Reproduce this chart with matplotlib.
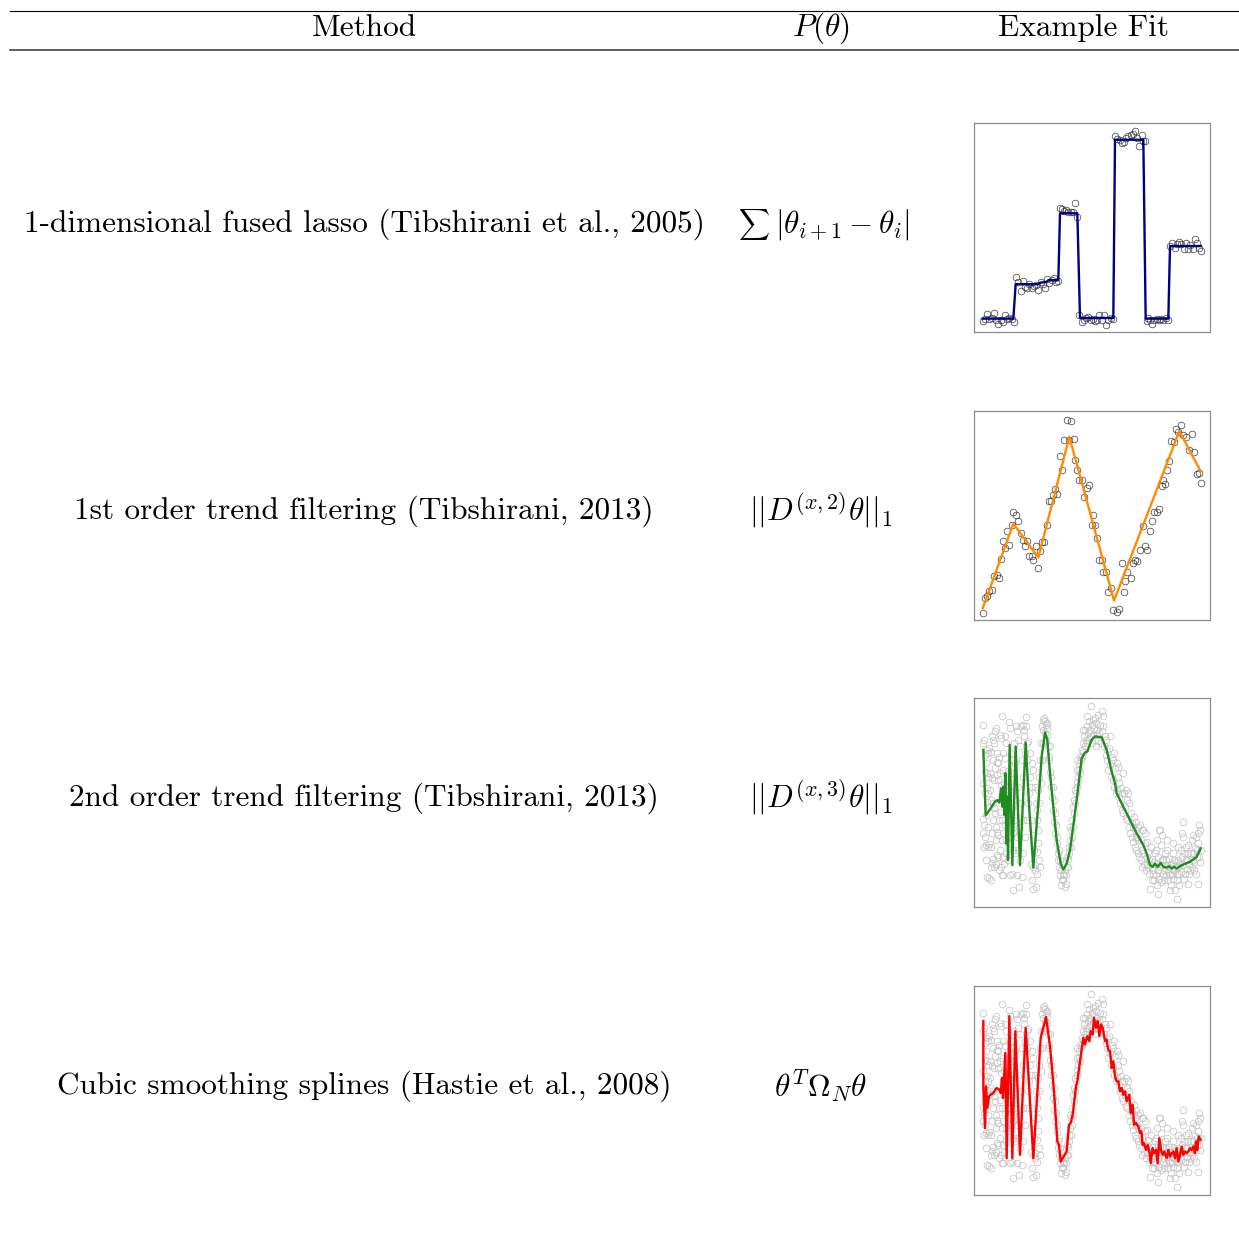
import numpy as np
import matplotlib
matplotlib.use("Agg")
import matplotlib.pyplot as plt
from matplotlib.lines import Line2D

plt.rcParams['font.family'] = 'cmr10'
plt.rcParams['mathtext.fontset'] = 'cm'
plt.rcParams['axes.unicode_minus'] = False

# table text
header = ['Method', r'$P(\theta)$', 'Example Fit']
methods = ['1-dimensional fused lasso (Tibshirani et al., 2005)',
           '1st order trend filtering (Tibshirani, 2013)',
           '2nd order trend filtering (Tibshirani, 2013)',
           'Cubic smoothing splines (Hastie et al., 2008)']
penalties = [r'$|\theta_{i+1}-\theta_i|$',
             r'$||D^{(x,2)}\theta||_1$',
             r'$||D^{(x,3)}\theta||_1$',
             r'$\theta^T\Omega_N\theta$']

# fused lasso example (points + step fit)
lasso_x = [3.8, 4.5, 5.2, 5.8, 6.5, 7.2, 7.8, 8.5, 9.2, 9.8, 10.5, 11.2, 11.8, 12.5, 13.2,
           13.8, 14.5, 15.2, 15.8, 16.5, 17.2, 17.8, 18.5, 19.2, 19.8, 20.5, 21.2, 21.8, 22.5,
           23.2, 23.8, 24.5, 25.2, 25.8, 26.5,
           27.0, 27.6, 28.2, 28.8, 29.5, 30.2, 30.9, 31.6, 32.2,
           32.8, 33.5, 34.2, 34.8, 35.5, 36.2, 36.8, 37.5, 38.2, 38.8, 39.5, 40.2, 40.8, 41.5,
           42.2, 42.8,
           43.5, 44.2, 45.0, 45.6, 46.2, 46.8, 47.5, 48.2, 48.8, 49.5, 50.2, 50.8, 51.5, 52.0, 52.5,
           53.0, 53.5, 54.0, 54.7, 55.3, 56.0, 56.7, 57.3, 58.0, 58.7, 59.5,
           60.0, 60.7, 61.4, 62.0, 62.7, 63.4, 64.1, 64.8, 65.4, 66.1, 66.8, 67.5, 68.1, 68.8, 69.4]
lasso_y = [-0.16, 0, 0.26, -0.04, 0.04, 0.34, -0.1, -0.34, -0.1, -0.2, 0.2, 0, 0.04, -0.04, -0.2,
           2.5, 2.2, 1.66, 2.26, 1.9, 1.86, 2.06, 1.86, 1.96, 2.04, 1.7, 2.2, 2.1, 1.86, 2.38,
           2.12, 2.3, 2.4, 2.2, 2.26,
           6.6, 6.56, 6.44, 6.5, 6.4, 6.36, 6.4, 6.9, 6.1,
           0.2, -0.2, -0.1, 0.06, 0.1, -0.06, 0, -0.14, -0.06, 0.2, -0.1, 0.24, -0.4, -0.1, 0.04, 0,
           10.9, 10.76, 10.7, 10.5, 10.56, 10.8, 10.9, 11.0, 11.04, 11.24, 10.8, 10.3, 11.0, 10.64, 10.6,
           -0.16, 0.04, -0.1, -0.34, -0.1, 0, -0.1, 0, -0.06, 0.06, -0.1,
           4.36, 4.5, 4.2, 4.44, 4.56, 4.44, 4.16, 4.5, 4.14, 4.4, 4.16, 4.76, 4.54, 4.24, 4.04]
lasso_fit_x = [3.8, 13.0, 13.7, 20.5, 21.0, 23.0, 23.5, 26.5, 27.0, 32.2, 33.0, 43.0,
               43.5, 52.0, 52.7, 59.5, 60.0, 69.2]
lasso_fit_y = [0, 0, 2.06, 2.06, 2.14, 2.2, 2.3, 2.3, 6.3, 6.3, 0.04, 0.04,
               10.7, 10.7, 0, 0, 4.34, 4.34]

# 1st order trend filtering example
tf1_x = [3.8, 4.5, 5.2, 5.8, 6.5, 7.2, 8.0, 8.7, 9.2, 9.8, 10.4, 11.2, 11.8, 12.5, 13.0, 13.7,
         14.5, 15.2, 15.8, 16.5, 17.2, 17.8, 18.5, 19.0, 19.8, 20.5, 21.0, 21.5, 22.3, 23.0,
         23.7, 24.2, 25.0, 25.5, 26.2, 27.0, 27.7, 28.3, 29.0, 29.8, 30.4, 31.2, 31.6, 32.2,
         32.8, 33.5, 34.3, 35.0, 35.7, 36.5, 37.0, 37.5, 38.2, 38.8, 39.5, 40.0, 40.8, 41.5,
         42.2, 42.8, 44.0, 44.8, 45.5, 46.3, 46.6, 47.2, 48.2, 48.8, 49.5, 50.0, 51.0, 52.0,
         52.5, 53.2, 54.0, 54.6, 55.3, 56.0, 56.6, 57.5, 58.0, 58.5, 59.2, 59.8, 60.4, 61.2,
         61.8, 62.5, 63.2, 64.0, 64.8, 65.8, 66.5, 67.2, 68.0, 68.6, 69.2]
tf1_y = [-0.4, 0.5, 0.66, 0.94, 1.0, 1.84, 1.9, 1.74, 2.84, 3.9, 3.5, 4.5, 3.7, 4.9, 5.64, 5.5,
         5.1, 4.4, 4.0, 3.6, 3.94, 3.04, 3.0, 2.8, 3.64, 2.3, 3.34, 3.84, 3.84, 4.9,
         6.3, 6.3, 6.7, 7.04, 6.74, 9.0, 8.2, 9.96, 11.16, 9.96, 11.1, 10.0, 8.76, 8.2,
         7.6, 7.6, 6.56, 7.1, 7.3, 4.9, 5.5, 4.9, 4.1, 2.8, 2.76, 2.1, 2.06, 0.9,
         1.1, -0.2, -0.3, -0.12, 2.6, 0.9, 1.56, 2.06, 1.7, 2.6, 2.76, 2.7, 3.36, 4.84,
         3.6, 3.4, 4.5, 5.1, 5.64, 5.64, 5.84, 7.2, 7.56, 7.34, 8.2, 8.7, 9.9, 9.86,
         10.64, 10.44, 10.84, 10.28, 10.16, 9.36, 10.3, 9.26, 7.94, 8.0, 7.4]
tf1_fit_x = [3.8, 13.0, 20.5, 29.8, 43.2, 62.8, 69.2]
tf1_fit_y = [-0.1, 4.96, 2.94, 10.16, 0.36, 10.5, 8.1]

# noisy doppler-like data shared by the last two examples
cloud = [
    (4.0, 54.5), (4.0, 49.0), (4.2, 50.0), (4.5, 45.5), (4.8, 43.0), (5.2, 47.0), (5.5, 46.0),
    (5.8, 47.5), (6.2, 46.5), (6.5, 51.0), (6.8, 50.0), (7.2, 49.0), (7.5, 52.5), (7.8, 53.5),
    (8.2, 43.5), (8.5, 43.0), (8.8, 45.0), (9.0, 51.5), (9.3, 50.5), (9.7, 57.2), (10.0, 46.0),
    (10.4, 51.0), (10.7, 49.0), (4.0, 26.2), (4.5, 21.0), (4.2, 18.0), (4.8, 18.5), (5.5, 18.0),
    (5.8, 18.8), (6.2, 18.0), (4.8, 14.2), (5.2, 9.0), (5.7, 8.8), (6.2, 8.2), (6.5, 13.2),
    (7.0, 14.5), (7.3, 12.0), (7.8, 12.8), (8.2, 15.5), (8.5, 15.0), (9.0, 17.0), (9.3, 12.0),
    (9.7, 9.5), (10.0, 9.5), (10.3, 13.0), (10.7, 16.0), (7.0, 26.0), (7.5, 28.0), (7.8, 24.0),
    (8.2, 22.5), (8.5, 21.5), (8.8, 26.0), (9.0, 28.5), (9.5, 26.0), (6.0, 35.0), (5.5, 34.0),
    (5.0, 35.5), (6.2, 32.0), (6.8, 31.0), (7.2, 29.5), (4.5, 34.0), (5.2, 31.5), (5.8, 30.0),
    (10.0, 34.0), (10.3, 37.0), (8.5, 38.0), (9.0, 40.0), (8.0, 39.5), (7.5, 41.5), (7.2, 38.0),
    (6.5, 38.5), (6.0, 40.0), (5.5, 39.0), (5.0, 40.0), (4.0, 22.0), (4.3, 24.5), (4.7, 27.5),
    (5.3, 24.0), (6.7, 22.0), (7.7, 20.0), (9.5, 20.0), (10.0, 22.0), (10.5, 24.5), (9.2, 36.5),
    (9.8, 41.0), (8.0, 46.0), (6.8, 44.0), (4.5, 40.5), (4.0, 37.0), (10.5, 44.5), (10.8, 31.0),
    (10.8, 20.0), (6.2, 12.0), (8.8, 11.0), (10.0, 15.0),
    (11.0, 38.0), (11.2, 36.5), (11.5, 40.8), (11.8, 55.2), (12.0, 53.5), (12.2, 40.0),
    (12.5, 34.5), (13.0, 44.0), (13.4, 43.0), (13.8, 54.2), (14.0, 52.5), (14.5, 50.0),
    (15.0, 48.0), (15.5, 44.0), (16.0, 54.5), (16.3, 53.0), (16.7, 56.7), (11.8, 35.0),
    (12.5, 29.5), (12.8, 22.0), (13.2, 26.0), (14.0, 21.0), (14.5, 17.0), (15.0, 14.0),
    (15.5, 9.0), (14.8, 6.0), (12.8, 5.0), (12.0, 9.5), (12.5, 10.0), (14.0, 9.5), (16.0, 16.0),
    (16.5, 21.0), (17.0, 26.0), (17.5, 31.0), (17.8, 34.0), (18.2, 36.0), (18.5, 26.0),
    (18.8, 21.5), (19.2, 17.0), (19.5, 12.5), (19.6, 11.0), (19.0, 5.5), (18.5, 8.0), (19.8, 6.0),
    (18.8, 12.0), (18.3, 13.0), (18.0, 39.0), (17.2, 44.0), (16.5, 46.0), (16.2, 51.0),
    (16.8, 54.0), (17.5, 49.5), (18.0, 46.0), (18.5, 43.0), (19.0, 41.0), (19.5, 36.0),
    (19.8, 31.0), (11.3, 26.0), (11.6, 19.0), (11.4, 14.0), (13.5, 16.0), (13.7, 32.0),
    (14.3, 36.0), (15.2, 31.0), (15.8, 26.0), (14.7, 24.0), (13.2, 49.0), (15.2, 54.0),
    (17.0, 49.0), (15.8, 39.0), (12.2, 46.0), (12.8, 17.0), (20.0, 16.5),
    (20.0, 29.0), (20.2, 26.0), (20.5, 35.0), (20.8, 39.0), (21.0, 44.0), (21.2, 49.0),
    (21.5, 54.0), (21.8, 56.0), (22.2, 56.5), (22.5, 55.5), (22.8, 54.5), (23.0, 53.5),
    (23.2, 51.5), (23.5, 48.0), (23.8, 44.0), (24.0, 40.5), (24.3, 36.0), (24.6, 33.0),
    (25.0, 29.0), (25.3, 25.5), (25.6, 22.0), (26.0, 19.0), (26.3, 16.0), (26.5, 14.0),
    (26.8, 12.0), (27.0, 9.5), (27.2, 6.5), (27.5, 8.5), (27.8, 10.0), (28.2, 9.5), (28.5, 6.0),
    (28.8, 7.0), (29.0, 12.0), (21.2, 37.0), (20.8, 31.0), (21.5, 44.0), (21.8, 49.0),
    (22.0, 53.0), (22.5, 52.0), (22.8, 50.0), (23.2, 55.0), (23.6, 45.0), (24.0, 48.0),
    (24.4, 39.0), (24.8, 36.0), (25.2, 32.0), (25.5, 28.0), (25.8, 24.5), (26.2, 21.0),
    (26.6, 17.0), (27.0, 14.0), (27.3, 11.0), (27.6, 12.5), (28.0, 8.0), (28.4, 11.0),
    (28.7, 9.5), (29.0, 15.0), (20.5, 23.0), (20.3, 19.0), (20.6, 14.0), (20.2, 10.0), (21.0, 12.0),
    (29.3, 14.5), (29.6, 18.0), (30.0, 20.0), (30.3, 23.0), (30.6, 26.0), (31.0, 30.0),
    (31.3, 32.0), (31.6, 35.0), (32.0, 37.5), (32.2, 41.0), (32.6, 43.0), (33.0, 45.0),
    (33.5, 47.0), (33.8, 49.0), (34.2, 51.0), (34.5, 53.0), (35.0, 54.0), (35.5, 52.0),
    (35.8, 55.5), (36.2, 60.0), (36.5, 54.5), (36.8, 56.0), (37.2, 53.5), (37.5, 56.5),
    (37.8, 55.0), (38.2, 53.0), (38.5, 57.5), (39.0, 54.5), (39.5, 58.5), (39.8, 57.0),
    (40.0, 54.0), (29.5, 12.0), (29.8, 16.0), (30.2, 18.0), (30.5, 21.0), (30.8, 24.0),
    (31.2, 28.0), (31.5, 31.0), (31.8, 34.0), (32.1, 36.0), (32.5, 39.0), (32.8, 41.0),
    (33.2, 44.0), (33.6, 45.0), (34.0, 46.5), (34.4, 48.0), (34.8, 50.0), (35.2, 49.0),
    (35.6, 50.5), (36.0, 53.0), (36.4, 51.0), (36.7, 49.0), (37.0, 51.5), (37.4, 50.0),
    (37.7, 48.0), (38.0, 51.5), (38.4, 49.5), (38.8, 52.0), (39.2, 49.0), (39.6, 52.5),
    (30.0, 24.0), (32.0, 44.0), (33.0, 40.0), (34.0, 53.0), (35.0, 57.0),
    (40.5, 51.0), (40.8, 50.0), (41.2, 47.0), (41.8, 47.5), (42.5, 45.0), (43.0, 44.0),
    (43.5, 41.5), (44.0, 43.0), (44.5, 39.0), (44.8, 37.0), (45.2, 35.5), (45.8, 40.0),
    (46.2, 34.0), (46.5, 30.0), (47.0, 32.0), (47.5, 34.0), (47.8, 31.0), (48.2, 28.0),
    (48.5, 25.0), (48.8, 24.0), (49.2, 27.0), (49.6, 23.0), (50.0, 21.0), (50.5, 20.0),
    (51.0, 24.5), (51.5, 17.0), (51.8, 16.0), (52.0, 23.0), (52.5, 19.0), (53.0, 19.5),
    (53.5, 16.5), (53.8, 14.0), (54.2, 18.0), (40.3, 48.0), (40.7, 45.5), (41.0, 44.0),
    (41.5, 41.0), (42.0, 42.5), (42.2, 39.0), (42.8, 38.0), (43.2, 36.0), (43.7, 34.0),
    (44.2, 35.0), (44.7, 33.0), (45.0, 31.0), (45.5, 29.0), (46.0, 28.0), (46.7, 26.5),
    (47.2, 26.0), (47.7, 24.0), (48.0, 22.0), (48.7, 21.0), (49.0, 19.5), (49.4, 18.0),
    (49.8, 17.0), (50.3, 16.0), (50.8, 15.0), (51.2, 14.0), (51.6, 12.0), (52.2, 13.0),
    (52.7, 11.0), (53.2, 12.5), (53.7, 10.0), (42.0, 51.0), (43.3, 46.0), (44.5, 42.0),
    (45.7, 34.0), (46.8, 35.0), (49.7, 25.5), (51.2, 20.0),
    (54.5, 12.0), (54.8, 10.0), (55.2, 8.0), (55.5, 16.0), (55.8, 17.0), (56.2, 13.0),
    (56.5, 11.0), (56.8, 23.0), (57.2, 18.5), (57.5, 14.0), (57.8, 10.0), (58.2, 8.0),
    (58.5, 16.0), (58.8, 14.0), (59.2, 17.0), (59.5, 8.0), (59.8, 12.0), (60.2, 13.0),
    (60.5, 10.0), (60.8, 16.0), (61.2, 14.0), (61.5, 5.0), (61.8, 12.0), (62.2, 8.0),
    (62.5, 14.0), (62.8, 10.0), (63.2, 17.0), (63.5, 22.0), (64.0, 25.5), (64.2, 16.0),
    (64.5, 10.0), (64.8, 18.0), (65.2, 14.0), (65.5, 7.0), (65.8, 10.0), (66.2, 16.0),
    (66.5, 20.0), (66.8, 14.0), (67.2, 11.0), (67.5, 17.5), (67.8, 21.0), (68.2, 15.0),
    (68.5, 7.0), (68.8, 24.5), (69.0, 23.0), (69.2, 17.0), (69.0, 13.5),
    (54.6, 14.5), (55.0, 11.0), (55.3, 13.5), (55.7, 9.5), (56.0, 6.5), (56.3, 15.0),
    (56.7, 8.5), (57.0, 12.0), (57.3, 7.5), (57.7, 12.5), (58.0, 14.5), (58.3, 11.0),
    (58.7, 9.5), (59.0, 12.5), (59.3, 10.5), (59.7, 14.5), (60.0, 9.5), (60.3, 6.5),
    (60.7, 11.5), (61.0, 8.5), (61.3, 11.0), (61.7, 13.5), (62.0, 10.0), (62.3, 12.0),
    (62.7, 6.5), (63.0, 13.0), (63.3, 10.5), (63.7, 15.0), (64.0, 12.5), (64.3, 8.5),
    (64.7, 14.0), (65.0, 11.5), (65.3, 16.0), (65.7, 13.0), (66.0, 11.0), (66.3, 14.5),
    (66.7, 12.0), (67.0, 16.0), (67.3, 13.5), (67.7, 10.0), (68.0, 17.0), (68.3, 19.0),
    (68.7, 15.0), (56.0, 20.0), (57.5, 21.5), (59.0, 20.0), (61.0, 19.0), (62.5, 18.0),
    (65.5, 18.5), (67.0, 21.5), (68.5, 22.0), (56.5, 4.0), (62.0, 2.5), (60.0, 5.0),
    (54.0, 5.5), (54.5, 8.0), (53.5, 12.0), (53.0, 15.0), (52.5, 22.0), (51.5, 23.0),
    (50.5, 24.0), (49.7, 21.0), (57.0, 23.0), (64.0, 21.0),
]

tf2_fit = [
    (4.0, 47.0), (4.7, 27.4), (5.5, 28.5), (6.5, 30.0), (7.5, 31.5), (8.2, 32.0), (8.8, 31.2),
    (9.3, 35.5), (9.7, 30.0), (10.0, 36.0), (10.3, 27.5), (10.6, 40.0), (10.9, 19.0),
    (11.2, 33.0), (11.4, 14.0), (11.9, 48.5), (12.7, 12.5), (13.7, 48.0), (15.0, 12.5),
    (16.7, 49.2), (17.8, 29.0), (19.0, 11.8), (20.5, 31.0), (21.5, 45.0), (22.5, 52.2),
    (23.2, 50.0), (24.0, 40.0), (26.0, 20.0), (27.2, 13.0), (28.0, 11.2), (29.0, 13.0),
    (30.0, 17.0), (32.0, 32.0), (33.5, 44.5), (34.5, 46.2), (35.2, 46.5), (36.5, 50.0),
    (37.5, 51.0), (39.5, 50.8), (41.0, 47.0), (42.5, 40.5), (43.5, 37.0), (44.0, 34.0),
    (46.0, 30.0), (48.0, 26.0), (50.0, 22.0), (52.0, 18.5), (53.0, 16.0), (54.0, 12.5),
    (54.8, 12.0), (55.5, 13.0), (56.3, 12.0), (57.2, 13.2), (58.0, 12.0), (59.0, 11.8),
    (59.8, 12.2), (60.5, 11.5), (61.2, 12.0), (62.0, 11.5), (63.5, 12.5), (66.0, 13.5),
    (68.0, 15.0), (69.2, 17.5),
]

spline_fit = [
    (4.0, 52.0), (4.0, 32.0), (4.5, 20.0), (4.8, 32.5), (5.2, 26.0), (5.7, 29.5), (6.2, 30.0),
    (7.0, 30.5), (8.0, 32.0), (8.8, 31.5), (9.2, 30.5), (9.6, 35.0), (9.9, 29.0), (10.6, 42.5),
    (11.0, 11.0), (11.8, 53.5), (12.7, 11.0), (13.6, 49.0), (15.0, 12.0), (16.7, 50.0),
    (19.0, 11.0), (21.2, 47.0), (22.8, 53.2), (24.0, 44.5), (25.2, 31.0), (26.2, 16.0),
    (26.7, 15.0), (27.2, 10.0), (29.0, 13.0), (29.7, 21.0), (30.2, 21.5), (30.8, 24.0),
    (31.8, 32.5), (32.2, 34.0), (33.0, 40.0), (34.0, 47.0), (34.5, 45.0), (35.2, 47.5),
    (35.8, 46.0), (36.2, 49.0), (36.8, 48.0), (37.2, 53.0), (37.8, 50.0), (38.3, 52.0),
    (38.8, 47.5), (39.3, 51.0), (39.8, 50.0), (40.5, 46.0), (41.0, 46.5), (41.4, 43.5),
    (42.0, 43.0), (42.5, 38.0), (43.0, 40.0), (43.5, 35.5), (44.0, 34.0), (44.5, 34.0),
    (45.0, 31.0), (45.5, 32.0), (46.0, 30.0), (46.5, 31.0), (47.0, 28.0), (47.8, 30.0),
    (48.2, 24.5), (48.8, 27.0), (49.2, 21.0), (49.8, 21.5), (50.5, 20.5), (51.0, 18.5),
    (51.4, 19.0), (51.8, 15.0), (52.2, 15.5), (52.8, 13.5), (53.3, 15.0), (53.8, 13.0),
    (54.2, 9.5), (54.8, 14.0), (55.2, 12.5), (55.8, 13.5), (56.3, 9.5), (56.8, 17.0),
    (57.3, 13.5), (57.8, 12.0), (58.3, 13.0), (59.0, 11.0), (59.5, 13.5), (60.0, 11.5),
    (60.5, 12.5), (61.0, 13.0), (61.5, 11.0), (62.0, 14.0), (62.5, 10.0), (63.0, 12.0),
    (63.5, 14.5), (64.0, 12.0), (64.5, 13.0), (65.0, 12.5), (65.5, 13.0), (66.0, 14.0),
    (66.5, 13.5), (67.0, 14.5), (67.5, 12.5), (67.8, 16.0), (68.2, 13.5), (68.6, 17.5),
    (69.2, 16.5),
]

W, H = 1239, 1233
fig = plt.figure(figsize=(W / 100, H / 100), dpi=100)

def fx(px):
    return px / W

def fy(py):
    return 1 - py / H

fs = 22.5
# rules of the table
fig.add_artist(Line2D([fx(10), fx(1239)], [fy(10.5), fy(10.5)], color='black', lw=0.8))
fig.add_artist(Line2D([fx(10), fx(1239)], [fy(49.5), fy(49.5)], color='#333333', lw=1.1))

col_x = [364, 821, 1083]
for cx, h in zip(col_x, header):
    fig.text(fx(cx), fy(28), h, ha='center', va='center', fontsize=fs)

row_y = [224, 511, 798, 1086]
for i, (ry, m, p) in enumerate(zip(row_y, methods, penalties)):
    fig.text(fx(364), fy(ry), m, ha='center', va='center', fontsize=fs)
    if i == 0:
        # inline-size summation sign in front of the first penalty
        fig.text(fx(754), fy(ry), r'$\sum$', ha='center', va='center', fontsize=15.5)
        fig.text(fx(842), fy(ry), p, ha='center', va='center', fontsize=fs)
    else:
        fig.text(fx(821), fy(ry), p, ha='center', va='center', fontsize=fs)

box_top = [123, 411, 698, 986]

def make_ax(top):
    ax = fig.add_axes([fx(974), fy(top + 209), 236 / W, 209 / H])
    ax.set_xticks([])
    ax.set_yticks([])
    for s in ax.spines.values():
        s.set_color('#8c8c8c')
        s.set_linewidth(0.9)
    ax.set_xlim(1.2, 72.0)
    return ax

ms = 4.8
# fused lasso
ax = make_ax(box_top[0])
ax.plot(lasso_x, lasso_y, 'o', mfc='none', mec='#3a3a3a', mew=0.5, ms=ms)
ax.plot(lasso_fit_x, lasso_fit_y, color='#000080', lw=1.7)
ax.set_ylim(-0.8, 11.7)

# 1st order trend filtering
ax = make_ax(box_top[1])
ax.plot(tf1_x, tf1_y, 'o', mfc='none', mec='#3a3a3a', mew=0.5, ms=ms)
ax.plot(tf1_fit_x, tf1_fit_y, color='darkorange', lw=1.7)
ax.set_ylim(-0.8, 11.7)

cx_, cy_ = np.array(cloud).T
for top, fit, col in [(box_top[2], tf2_fit, 'forestgreen'), (box_top[3], spline_fit, 'red')]:
    ax = make_ax(top)
    ax.plot(cx_, cy_, 'o', mfc='none', mec='#c4c4c4', mew=0.55, ms=ms)
    f = np.array(fit)
    ax.plot(f[:, 0], f[:, 1], color=col, lw=1.7)
    ax.set_ylim(0, 62.5)

fig.savefig('out.png', dpi=100)
